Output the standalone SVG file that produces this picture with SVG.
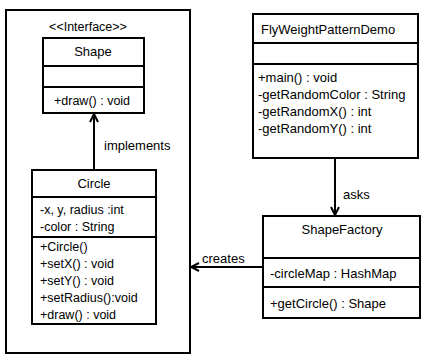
<svg xmlns="http://www.w3.org/2000/svg" width="426" height="361" viewBox="0 0 426 361">
<style>
.b{fill:#fff;stroke:#000;stroke-width:2}
.l{stroke:#000;stroke-width:2;fill:none}
text{font-family:"Liberation Sans",Arial,sans-serif;font-size:13px;fill:#000}
.s{font-size:12.5px}
.c{text-anchor:middle}
</style>
<defs>
<marker id="ah" viewBox="0 0 10 10" refX="9" refY="5" markerWidth="10" markerHeight="10" markerUnits="userSpaceOnUse" orient="auto">
<path d="M1,1 L9,5 L1,9" fill="none" stroke="#000" stroke-width="2"/>
</marker>
</defs>
<rect width="426" height="361" fill="#fff"/>
<g id="frame"><rect class="b" x="6" y="10" width="184" height="343"/></g>
<g id="shape">
<text class="c s" x="88" y="31">&lt;&lt;Interface&gt;&gt;</text>
<rect class="b" x="43" y="38" width="101" height="75"/>
<line class="l" x1="43" y1="66" x2="144" y2="66"/>
<line class="l" x1="43" y1="87" x2="144" y2="87"/>
<text class="c" x="93" y="56">Shape</text>
<text class="s" x="54" y="105">+draw() : void</text>
</g>
<g id="circle">
<rect class="b" x="32" y="170" width="124" height="154"/>
<line class="l" x1="32" y1="197" x2="156" y2="197"/>
<line class="l" x1="32" y1="237" x2="156" y2="237"/>
<text class="c" x="94" y="188">Circle</text>
<text class="s" x="40" y="214">-x, y, radius :int</text>
<text class="s" x="40" y="231">-color : String</text>
<text class="s" x="40" y="251">+Circle()</text>
<text class="s" x="40" y="268">+setX() : void</text>
<text class="s" x="40" y="285">+setY() : void</text>
<text class="s" x="40" y="302">+setRadius():void</text>
<text class="s" x="40" y="319">+draw() : void</text>
</g>
<g id="demo">
<rect class="b" x="253" y="14" width="165" height="144"/>
<line class="l" x1="253" y1="43" x2="418" y2="43"/>
<line class="l" x1="253" y1="64" x2="418" y2="64"/>
<text x="261" y="34">FlyWeightPatternDemo</text>
<text x="258" y="82">+main() : void</text>
<text x="258" y="99">-getRandomColor  : String</text>
<text x="258" y="116">-getRandomX() : int</text>
<text x="258" y="133">-getRandomY() : int</text>
</g>
<g id="factory">
<rect class="b" x="263" y="216" width="157" height="102"/>
<line class="l" x1="263" y1="258" x2="420" y2="258"/>
<line class="l" x1="263" y1="287" x2="420" y2="287"/>
<text class="c" x="342" y="234">ShapeFactory</text>
<text x="270" y="278">-circleMap : HashMap</text>
<text x="270" y="308">+getCircle() : Shape</text>
</g>
<g id="connectors">
<line class="l" x1="94" y1="170" x2="94" y2="114" marker-end="url(#ah)"/>
<text x="104" y="150">implements</text>
<line class="l" x1="335" y1="158" x2="335" y2="215" marker-end="url(#ah)"/>
<text x="343" y="199">asks</text>
<line class="l" x1="263" y1="267" x2="191" y2="267" marker-end="url(#ah)"/>
<text x="202" y="263">creates</text>
</g>
</svg>
